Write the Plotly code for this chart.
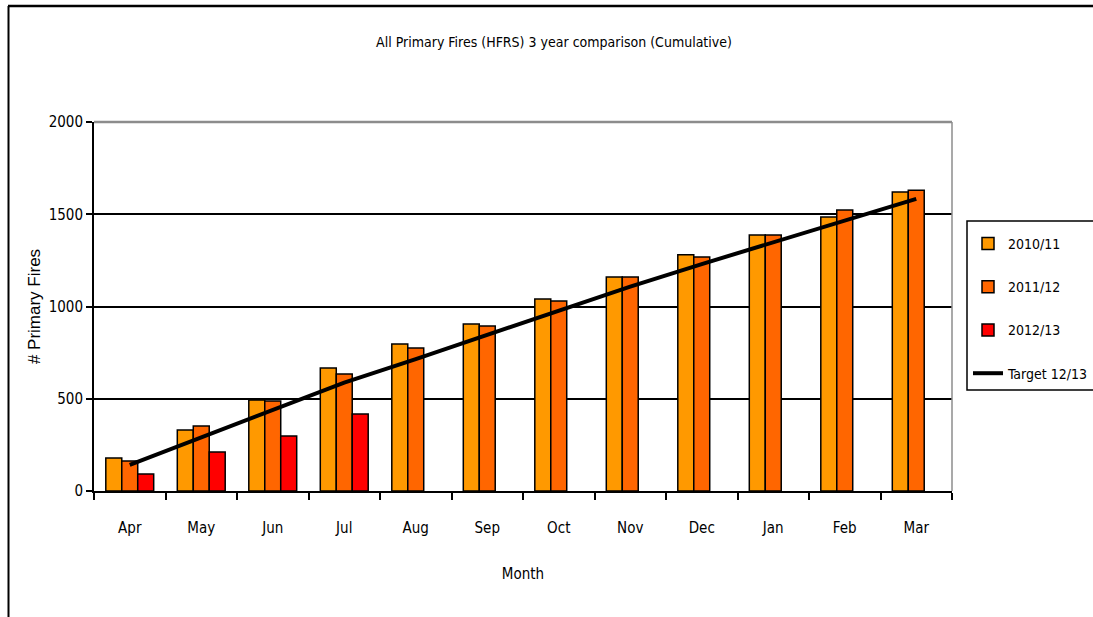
import plotly.graph_objects as go

months = ["Apr", "May", "Jun", "Jul", "Aug", "Sep", "Oct", "Nov", "Dec", "Jan", "Feb", "Mar"]
fires_2010_11 = [179, 331, 493, 667, 797, 905, 1041, 1160, 1280, 1388, 1485, 1621]
fires_2011_12 = [163, 352, 488, 634, 775, 894, 1030, 1160, 1268, 1388, 1523, 1630]
fires_2012_13 = [92, 211, 298, 417, None, None, None, None, None, None, None, None]
target_12_13 = [141, 290, 439, 588, 715, 847, 978, 1108, 1230, 1347, 1466, 1583]

NARROW = "DejaVu Sans Condensed, Liberation Sans Narrow, Arial Narrow, sans-serif"
WIDE = "Liberation Sans, Arial, sans-serif"

# plot-area geometry (pixels)
L, R, T, B = 94, 952, 122, 491
W, H = 1093, 617
PW, PH = R - L, B - T


def px(x):
    return (x - L) / PW


def py(y):
    return (B - y) / PH


fig = go.Figure()
series = [("2010/11", fires_2010_11, "#FF9900"),
          ("2011/12", fires_2011_12, "#FF6600"),
          ("2012/13", fires_2012_13, "#FF0000")]
for name, vals, col in series:
    fig.add_trace(go.Bar(x=months, y=vals, name=name, marker_color=col,
                         marker_line=dict(color="black", width=1.5),
                         legendgroup=name))
fig.add_trace(go.Scatter(x=months, y=target_12_13, name="Target 12/13", mode="lines",
                         line=dict(color="black", width=4), legendgroup="target"))

fig.update_layout(
    width=W, height=H,
    margin=dict(l=L, r=W - R, t=T, b=H - B, autoexpand=False),
    paper_bgcolor="white", plot_bgcolor="white",
    barmode="group", bargap=0.33, bargroupgap=0,
    font=dict(family=NARROW, size=14, color="black"),
    title=dict(text="All Primary Fires (HFRS) 3 year comparison (Cumulative)",
               xref="container", x=554 / W, xanchor="center",
               yref="container", y=1 - 42 / H, yanchor="middle",
               font=dict(family=NARROW, size=14, color="black")),
    legend=dict(x=px(968), y=py(228), xanchor="left", yanchor="top",
                borderwidth=0, bgcolor="rgba(0,0,0,0)",
                font=dict(family=NARROW, size=14), tracegroupgap=22,
                itemwidth=30),
    showlegend=True,
)
fig.update_xaxes(showline=True, linecolor="black", linewidth=2,
                 ticks="outside", tickson="boundaries", ticklen=7, tickcolor="black",
                 tickwidth=1.5, ticklabelstandoff=22,
                 title=dict(text="Month", font=dict(family=NARROW, size=15), standoff=32),
                 tickfont=dict(family=NARROW, size=15), showgrid=False)
fig.update_yaxes(range=[0, 2000], tickvals=[0, 500, 1000, 1500, 2000],
                 showline=True, linecolor="black", linewidth=2,
                 ticks="outside", ticklen=6, tickcolor="black", tickwidth=1.5,
                 showgrid=True, gridcolor="black", gridwidth=2, zeroline=False,
                 tickfont=dict(family=NARROW, size=15),
                 title=dict(text="# Primary Fires", font=dict(family=WIDE, size=17), standoff=4))

# plot area top/right border (gray)
fig.add_shape(type="line", xref="paper", yref="paper", x0=0, x1=1, y0=1, y1=1,
              line=dict(color="#8c8c8c", width=2.5), layer="above")
fig.add_shape(type="line", xref="paper", yref="paper", x0=1, x1=1, y0=0, y1=1,
              line=dict(color="#8c8c8c", width=1.5), layer="above")
# outer chart frame
fig.add_shape(type="line", xref="paper", yref="paper", x0=px(8), x1=px(1110),
              y0=py(6), y1=py(6), line=dict(color="black", width=2.5), layer="above")
fig.add_shape(type="line", xref="paper", yref="paper", x0=px(8.5), x1=px(8.5),
              y0=py(6), y1=py(640), line=dict(color="black", width=2), layer="above")
# legend frame
fig.add_shape(type="rect", xref="paper", yref="paper", x0=px(967), x1=px(1110),
              y0=py(221), y1=py(390), line=dict(color="black", width=1.5),
              fillcolor="rgba(0,0,0,0)", layer="above")

fig.write_html("out.html", config={"displayModeBar": False},
               post_script="document.body.style.margin='0';document.body.style.overflow='hidden';")
